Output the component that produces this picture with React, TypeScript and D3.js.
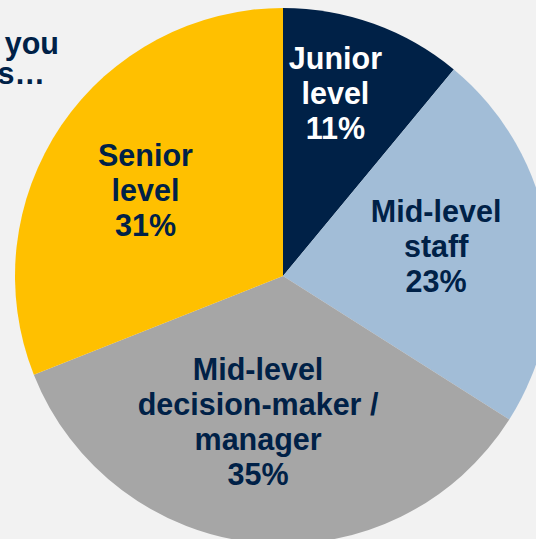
import React, { useEffect } from "react";
import * as d3 from "d3";

const categories = ["Junior level", "Mid-level staff", "Mid-level decision-maker / manager", "Senior level"];
const labelLines = [
  ["Junior", "level"],
  ["Mid-level", "staff"],
  ["Mid-level", "decision-maker /", "manager"],
  ["Senior", "level"],
];
const values = [11, 23, 35, 31];
const colors = ["#002147", "#a2bdd7", "#a6a6a6", "#ffc000"];
const textColors = ["#ffffff", "#002147", "#002147", "#002147"];
// label placement: radius from center and angle tweak (radians)
const labelRadius = [190, 156, 148, 162];
const labelAngleShift = [-0.066, -0.035, 0.075, -0.04];
const titleLines = ["Would you", "describe yourself as…"];

const W = 536;
const H = 539;
const cx = 283;
const cy = 276;
const R = 268;
const FS = 30.5;
const LH = 35;

export default function App() {
  useEffect(() => {
    document.body.style.margin = "0";
  }, []);

  const pie = d3.pie<number>().sort(null).startAngle(0).endAngle(2 * Math.PI);
  const arcs = pie(values);
  const arc = d3.arc<d3.PieArcDatum<number>>().innerRadius(0).outerRadius(R);

  return (
    <svg width={W} height={H} style={{ display: "block" }} fontFamily="'Liberation Sans', Arial, sans-serif">
      <rect x={0} y={0} width={W} height={H} fill="#f2f2f2" />
      <text textAnchor="end" fontSize={FS} fontWeight="bold" fill="#002147">
        <tspan x={59} y={54}>{titleLines[0]}</tspan>
        <tspan x={45} y={84}>{titleLines[1]}</tspan>
      </text>
      <g transform={`translate(${cx},${cy})`}>
        {arcs.map((a, i) => (
          <path key={categories[i]} d={arc(a) || ""} fill={colors[i]} />
        ))}
        {arcs.map((a, i) => {
          const ang = (a.startAngle + a.endAngle) / 2 + labelAngleShift[i];
          const x = Math.sin(ang) * labelRadius[i];
          const y = -Math.cos(ang) * labelRadius[i];
          const lines = [...labelLines[i], `${values[i]}%`];
          const blockH = (lines.length - 1) * LH;
          const firstBaseline = y - blockH / 2 + FS * 0.36;
          return (
            <text key={"l" + i} textAnchor="middle" fontSize={FS} fontWeight="bold" fill={textColors[i]}>
              {lines.map((ln, j) => (
                <tspan key={j} x={x} y={firstBaseline + j * LH}>{ln}</tspan>
              ))}
            </text>
          );
        })}
      </g>
    </svg>
  );
}
